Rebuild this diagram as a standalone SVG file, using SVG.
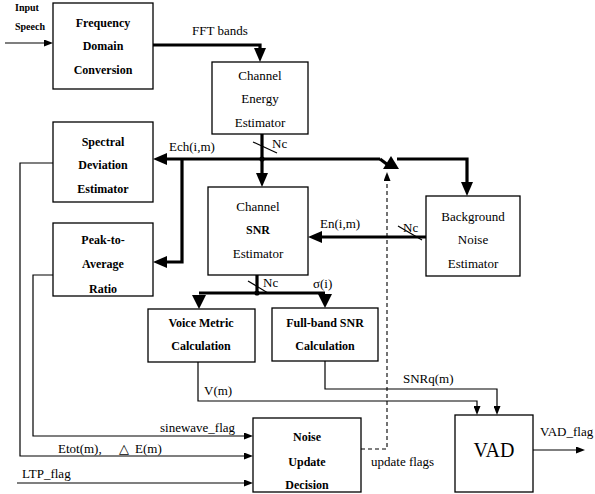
<svg xmlns="http://www.w3.org/2000/svg" width="595" height="494" viewBox="0 0 595 494">
<style>
.box{fill:#fff;stroke:#000;stroke-width:1.3}
.b{font-weight:bold;font-size:12px}
.c{text-anchor:middle}
.thick{fill:none;stroke:#000;stroke-width:3.2}
.thin{fill:none;stroke:#000;stroke-width:1.2}
.dash{fill:none;stroke:#000;stroke-width:1.1;stroke-dasharray:4 3}
</style>
<defs>
<marker id="ah" viewBox="0 0 14 12" markerWidth="14" markerHeight="12" refX="0" refY="6" orient="auto" markerUnits="userSpaceOnUse"><path d="M0,0 L14,6 L0,12 z" fill="#000"/></marker>
<marker id="as" viewBox="0 0 9 7" markerWidth="9" markerHeight="7" refX="0" refY="3.5" orient="auto" markerUnits="userSpaceOnUse"><path d="M0,0 L9,3.5 L0,7 z" fill="#000"/></marker>
</defs>
<rect width="595" height="494" fill="#fff"/>

<g id="connectors">
<path class="thin" d="M5,43 H44" marker-end="url(#as)"/>
<path class="thick" d="M153,45 H260 V48" marker-end="url(#ah)"/>
<path class="thick" d="M262,134 V173" marker-end="url(#ah)"/>
<path class="thick" d="M380,159 H167" marker-end="url(#ah)"/>
<path class="thick" d="M182,159 V262 H167" marker-end="url(#ah)"/>
<path class="thick" d="M380,159 L388,165"/>
<polygon points="383,169 399,169 391,156" fill="#000"/>
<path class="thick" d="M397,159 H467 V182" marker-end="url(#ah)"/>
<path class="thick" d="M426,237 H322" marker-end="url(#ah)"/>
<path class="thick" d="M257,275 V293"/>
<path class="thick" d="M199,293 H325"/>
<polygon points="192,295 206,295 199,309" fill="#000"/>
<polygon points="318,294 332,294 325,308" fill="#000"/>
<circle cx="262" cy="159" r="2.6" fill="#000"/>
<circle cx="257" cy="293" r="2.6" fill="#000"/>
<path class="thin" d="M253,142 L277,153"/>
<path class="thin" d="M398,226 L422,240"/>
<path class="thin" d="M248,281 L268,293"/>
<path class="thin" d="M198,362 V401 H477 V406" marker-end="url(#as)"/>
<path class="thin" d="M325,361 V389 H497 V406" marker-end="url(#as)"/>
<path class="thin" d="M533,450 H576" marker-end="url(#as)"/>
<path class="thin" d="M53,163 H20 V456 H244" marker-end="url(#as)"/>
<path class="thin" d="M53,275 H33 V436 H244" marker-end="url(#as)"/>
<path class="thin" d="M17,483 H244" marker-end="url(#as)"/>
<path class="dash" d="M361,449 H387 V181" marker-end="url(#as)"/>
</g>

<g font-family="Liberation Serif, Times New Roman, serif" font-size="13" fill="#000">
<g id="labels">
<text class="b" x="15" y="11" font-size="10" style="font-size:10px">Input</text>
<text class="b" x="15" y="30" style="font-size:10px">Speech</text>
<text x="192" y="35">FFT bands</text>
<text x="169" y="151">Ech(i,m)</text>
<text x="272" y="148">Nc</text>
<text x="320" y="228">En(i,m)</text>
<text x="403" y="232">Nc</text>
<text x="263" y="287">Nc</text>
<text x="313" y="288">σ(i)</text>
<text x="204" y="395">V(m)</text>
<text x="403" y="383">SNRq(m)</text>
<text x="160" y="432">sinewave_flag</text>
<text x="58" y="453">Etot(m),</text>
<text x="119" y="453" font-family="DejaVu Sans, sans-serif">△</text>
<text x="135" y="453">E(m)</text>
<text x="22" y="478">LTP_flag</text>
<text x="371" y="466">update flags</text>
<text x="540" y="436">VAD_flag</text>
</g>

<g id="freq">
<rect class="box" x="53" y="3" width="100" height="86"/>
<text class="b c" x="103" y="27">Frequency</text>
<text class="b c" x="103" y="50">Domain</text>
<text class="b c" x="103" y="74">Conversion</text>
</g>
<g id="cee">
<rect class="box" x="212" y="62" width="96" height="72"/>
<text class="c" x="260" y="80">Channel</text>
<text class="c" x="260" y="103">Energy</text>
<text class="c" x="260" y="127">Estimator</text>
</g>
<g id="sde">
<rect class="box" x="53" y="122" width="100" height="80"/>
<text class="b c" x="103" y="146">Spectral</text>
<text class="b c" x="103" y="169">Deviation</text>
<text class="b c" x="103" y="193">Estimator</text>
</g>
<g id="par">
<rect class="box" x="53" y="223" width="100" height="73"/>
<text class="b c" x="103" y="244">Peak-to-</text>
<text class="b c" x="103" y="268">Average</text>
<text class="b c" x="103" y="293">Ratio</text>
</g>
<g id="csnr">
<rect class="box" x="208" y="187" width="100" height="88"/>
<text class="c" x="258" y="211">Channel</text>
<text class="b c" x="258" y="234">SNR</text>
<text class="c" x="258" y="258">Estimator</text>
</g>
<g id="bne">
<rect class="box" x="426" y="196" width="94" height="80"/>
<text class="c" x="473" y="221">Background</text>
<text class="c" x="473" y="244">Noise</text>
<text class="c" x="473" y="268">Estimator</text>
</g>
<g id="vmc">
<rect class="box" x="148" y="309" width="107" height="53"/>
<text class="b c" x="201" y="327">Voice Metric</text>
<text class="b c" x="201" y="350">Calculation</text>
</g>
<g id="fbs">
<rect class="box" x="272" y="308" width="106" height="53"/>
<text class="b c" x="325" y="327">Full-band SNR</text>
<text class="b c" x="325" y="350">Calculation</text>
</g>
<g id="nud">
<rect class="box" x="253" y="418" width="108" height="74"/>
<text class="b c" x="307" y="441">Noise</text>
<text class="b c" x="307" y="466">Update</text>
<text class="b c" x="307" y="489">Decision</text>
</g>
<g id="vad">
<rect class="box" x="455" y="415" width="78" height="77"/>
<text class="c" x="494" y="457" font-size="20">VAD</text>
</g>
</g>
</svg>
